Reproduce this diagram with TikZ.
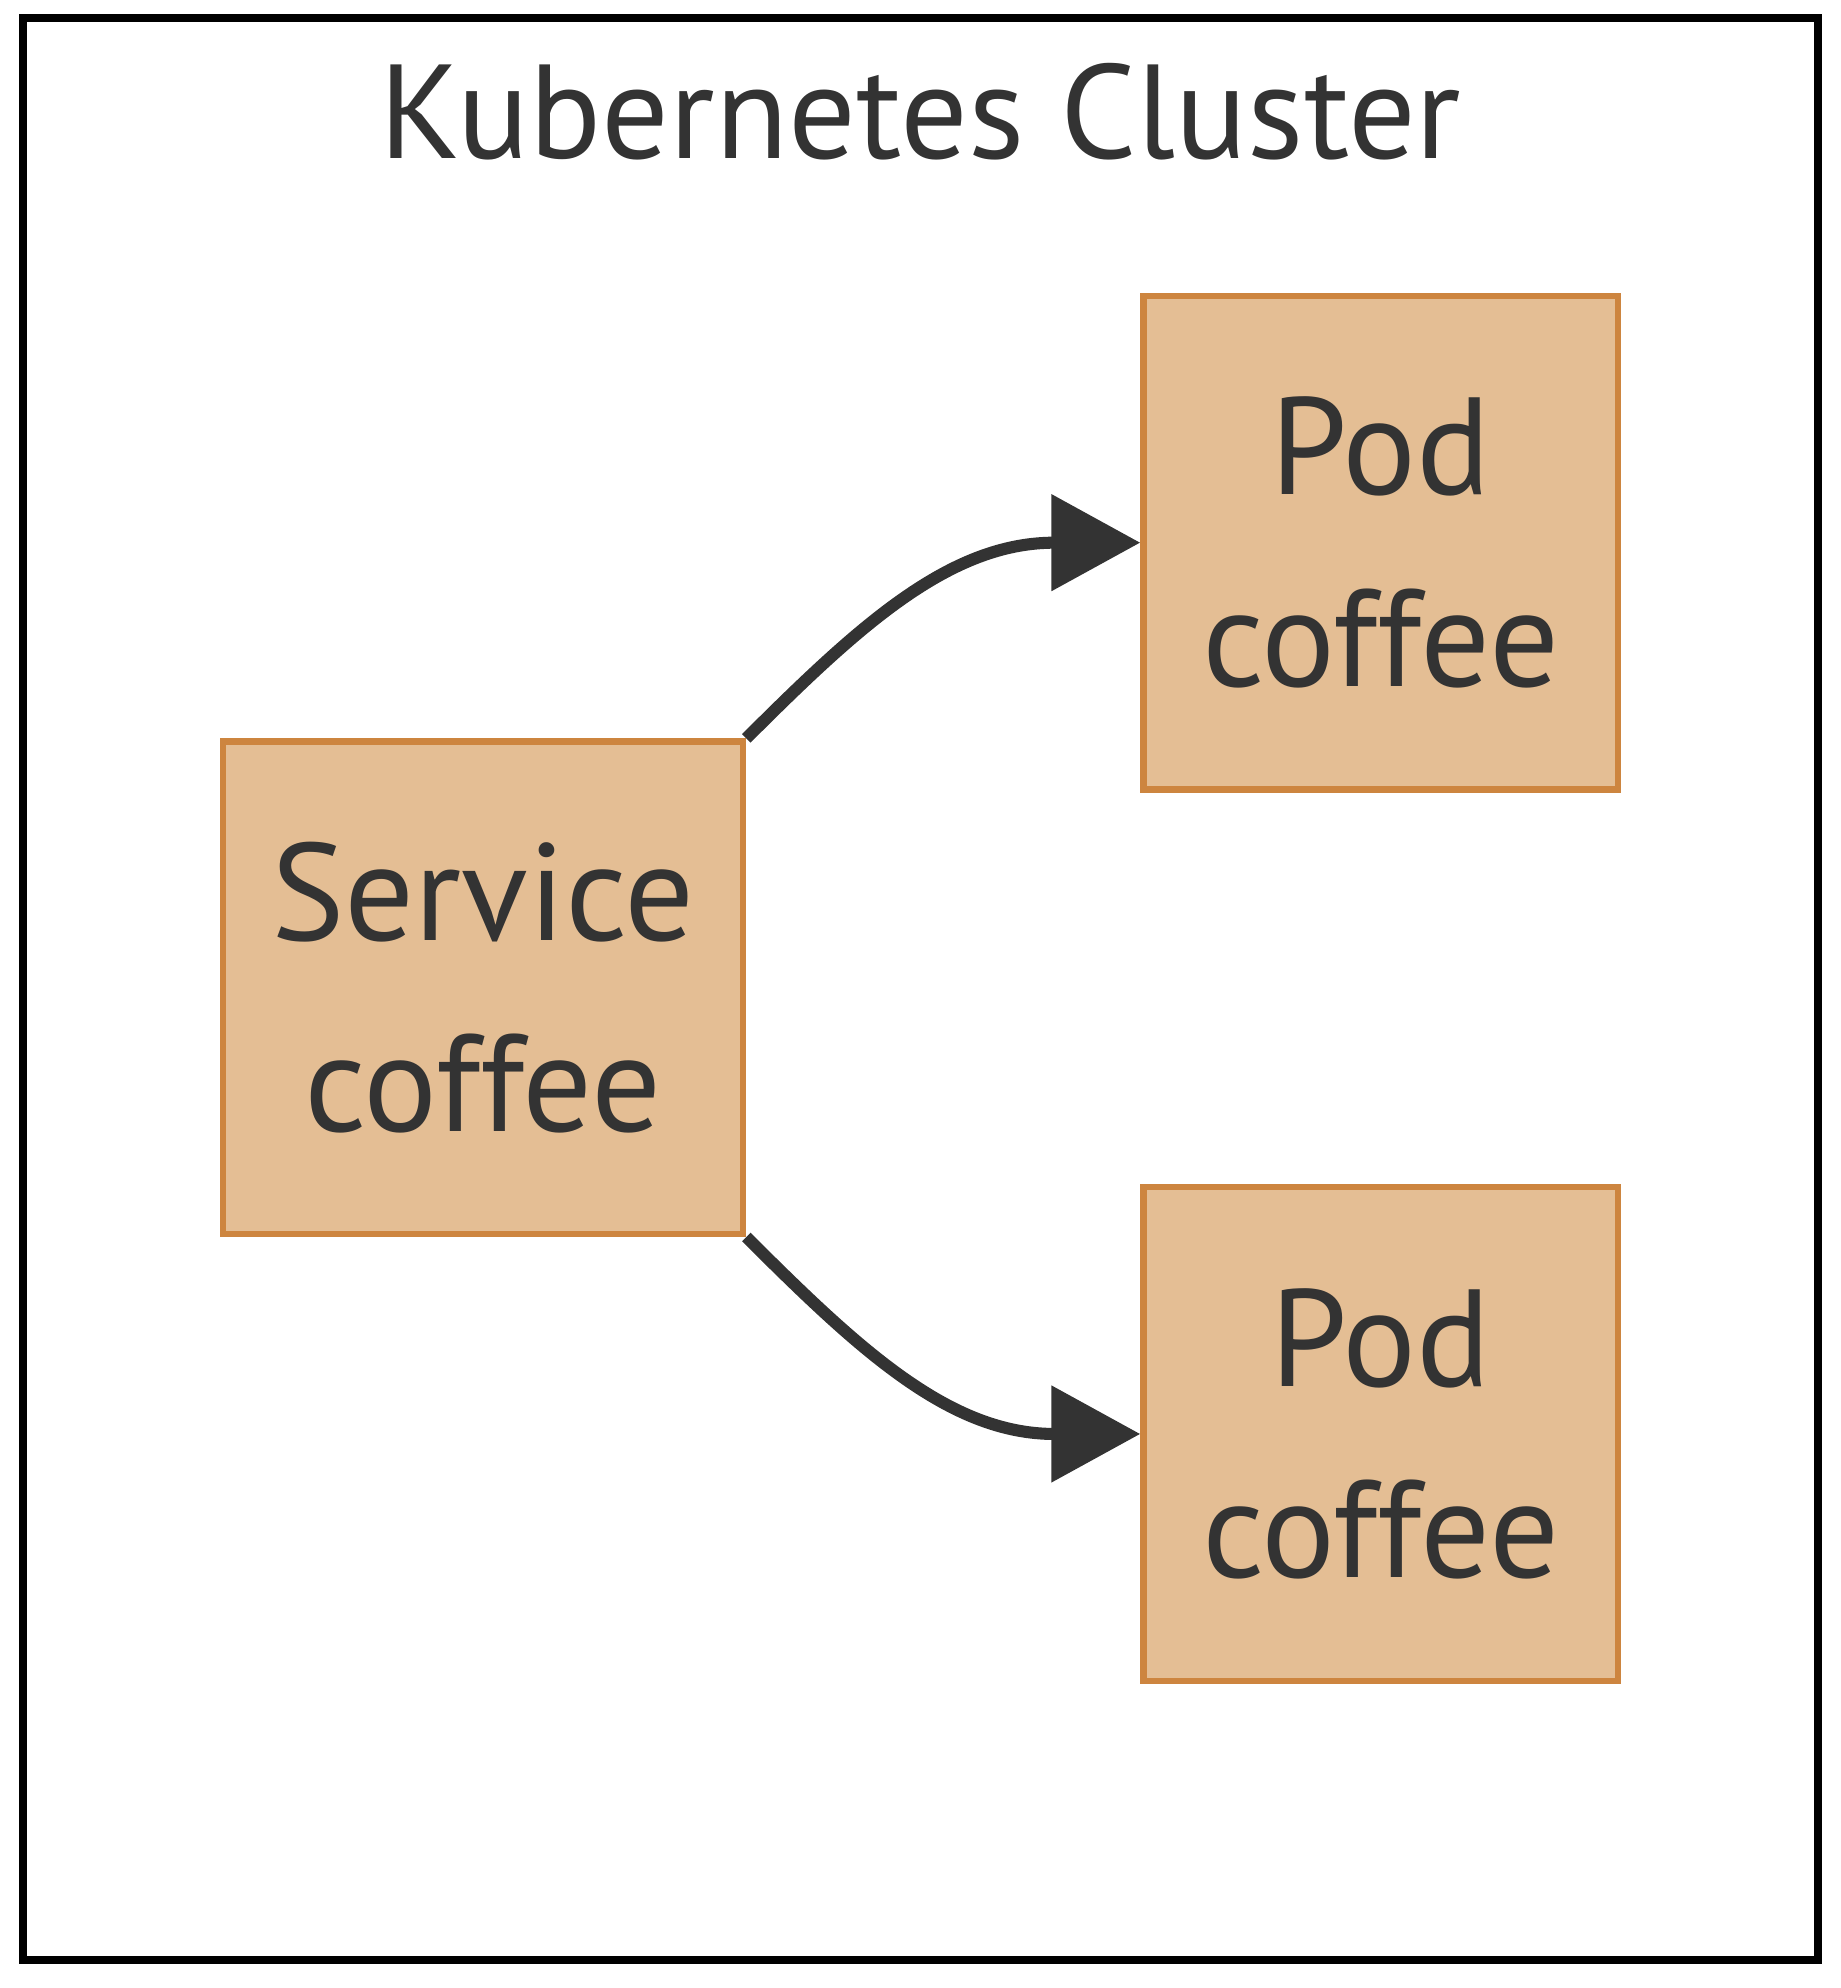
\documentclass[tikz,border=0pt]{standalone}
\usepackage{fontspec}
\setmainfont{PT Sans}
\usetikzlibrary{arrows.meta,positioning}
\definecolor{podfill}{HTML}{E4BE94}
\definecolor{podline}{HTML}{CD853F}
\definecolor{ink}{HTML}{333333}

\begin{document}
\begin{tikzpicture}[x=0.01cm, y=-0.01cm, >={Triangle[length=0.70cm, width=0.74cm]}]
    \tikzstyle{box} = [draw=podline, fill=podfill, line width=0.05cm, text=ink,
	align=center, font=\fontsize{31}{43}\selectfont, inner sep=0pt]
    \tikzstyle{link} = [->, draw=ink, line width=0.095cm]

	\useasboundingbox (0,0) rectangle (1452,1568);
	\draw[line width=0.06cm] (18,14) rectangle (1434,1546);

	\begin{scope}
		\path
			node[anchor=base, text=ink, font=\fontsize{30}{36}\selectfont] (title) at (726,125) {Kubernetes Cluster}
			node[box, minimum width=4.10cm, minimum height=3.88cm] (svc) at (381,779) {Service\\coffee}
			node[box, minimum width=3.74cm, minimum height=3.89cm] (pod1) at (1089,428) {Pod\\coffee}
			node[box, minimum width=3.74cm, minimum height=3.89cm] (pod2) at (1089,1131) {Pod\\coffee}
		;
		\draw[link] (svc.north east) .. controls +(90,-90) and +(-150,0) .. (pod1.west);
		\draw[link] (svc.south east) .. controls +(90,90) and +(-150,0) .. (pod2.west);
	\end{scope}
\end{tikzpicture}
\end{document}
